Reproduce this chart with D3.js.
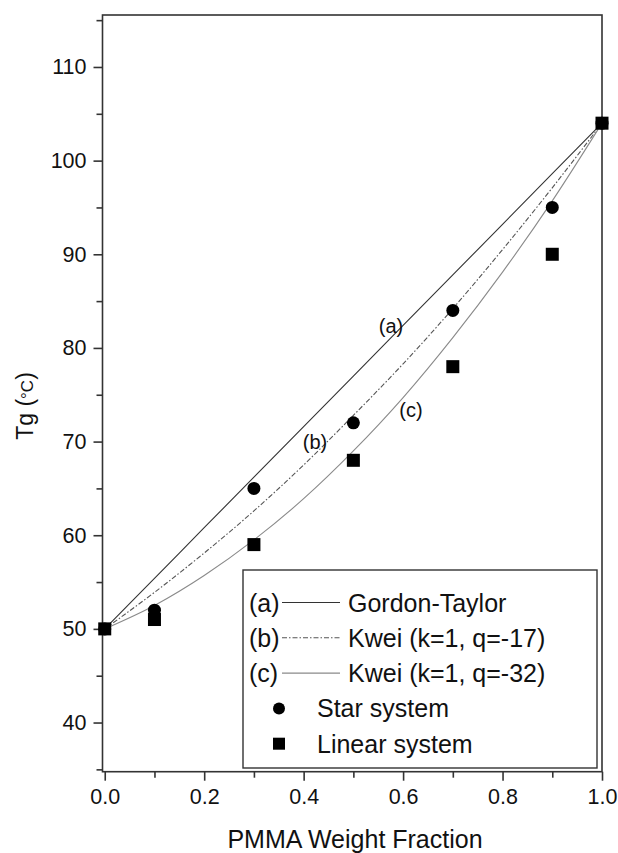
<!DOCTYPE html>
<html>
<head>
<meta charset="utf-8">
<script src="https://cdn.jsdelivr.net/npm/d3@7"></script>
<style>
	body { margin: 0; background: white; }
	text { font-family: "Liberation Sans", Arial, sans-serif; fill: #111; }
</style>
</head>
<body>
<svg id="container" width="618" height="853"></svg>
<script>

// data
const FRACTION = [0, 0.1, 0.3, 0.5, 0.7, 0.9, 1.0];
const STAR = [50, 52, 65, 72, 84, 95, 104];
const LINEAR = [50, 51, 59, 68, 78, 90, 104];

const CURVE_X = [0, 0.1, 0.2, 0.3, 0.4, 0.5, 0.6, 0.7, 0.8, 0.9, 1.0];
const CURVE_A = [50, 55.4, 60.8, 66.2, 71.6, 77.0, 82.4, 87.8, 93.2, 98.6, 104];
const CURVE_B = [50, 53.9, 58.1, 62.6, 67.5, 72.8, 78.3, 84.2, 90.5, 97.1, 104];
const CURVE_C = [50, 52.5, 55.7, 59.5, 63.9, 69.0, 74.7, 81.1, 88.1, 95.7, 104];

const X_TICKS = [0, 0.2, 0.4, 0.6, 0.8, 1.0];
const Y_TICKS = [40, 50, 60, 70, 80, 90, 100, 110];
const LEGEND = ['Gordon-Taylor', 'Kwei (k=1, q=-17)', 'Kwei (k=1, q=-32)', 'Star system', 'Linear system'];
const CURVE_TAGS = ['(a)', '(b)', '(c)'];

var svg = d3.select('#container');

var x = d3.scaleLinear().domain([-0.0045, 1.0]).range([102.5, 602]);
var y = d3.scaleLinear().domain([34.75, 115.55]).range([771.7, 15]);

// frame
svg.append('rect')
	.attr('x', x.range()[0]).attr('y', 15)
	.attr('width', x.range()[1] - x.range()[0])
	.attr('height', 771.7 - 15)
	.style('fill', 'none').style('stroke', '#333').style('stroke-width', 1.6);

// axes
var xAxis = svg.append('g')
	.attr('transform', 'translate(0,771.7)')
	.call(d3.axisBottom(x).tickValues(X_TICKS).tickFormat(d3.format('.1f')).tickSize(9).tickPadding(8));
var xMinor = svg.append('g')
	.attr('transform', 'translate(0,771.7)')
	.call(d3.axisBottom(x).tickValues([0.1, 0.3, 0.5, 0.7, 0.9]).tickFormat('').tickSize(6));

var yAxis = svg.append('g')
	.attr('transform', 'translate(102.5,0)')
	.call(d3.axisLeft(y).tickValues(Y_TICKS).tickSize(9).tickPadding(7));
var yMinor = svg.append('g')
	.attr('transform', 'translate(102.5,0)')
	.call(d3.axisLeft(y).tickValues([35, 45, 55, 65, 75, 85, 95, 105, 115]).tickFormat('').tickSize(6));

svg.selectAll('.domain').remove();
svg.selectAll('.tick line').style('stroke', '#333').style('stroke-width', 1.6);
svg.selectAll('.tick text')
	.style('font-family', '"Liberation Sans", Arial, sans-serif')
	.style('font-size', '21.5px')
	.style('fill', '#111');

// axis titles
svg.append('text')
	.attr('x', 355).attr('y', 848)
	.attr('text-anchor', 'middle')
	.style('font-size', '25px')
	.text('PMMA Weight Fraction');

var ytitle = svg.append('text')
	.attr('transform', 'translate(33,406) rotate(-90)')
	.attr('text-anchor', 'middle')
	.style('font-size', '23px');
ytitle.append('tspan').text('Tg (');
ytitle.append('tspan').style('font-size', '17px').text('\u00B0C');
ytitle.append('tspan').text(')');

// curves
var line = d3.line()
	.x(function(d) { return x(d[0]); })
	.y(function(d) { return y(d[1]); })
	.curve(d3.curveMonotoneX);

var curves = [
	{ v: CURVE_A, color: '#333', dash: null },
	{ v: CURVE_B, color: '#555', dash: '5,2,1.5,2' },
	{ v: CURVE_C, color: '#8a8a8a', dash: null }
];

curves.forEach(function(c) {
	svg.append('path')
		.datum(CURVE_X.map(function(d, i) { return [d, c.v[i]]; }))
		.attr('d', line)
		.style('fill', 'none')
		.style('stroke', c.color)
		.style('stroke-width', 1.1)
		.style('stroke-dasharray', c.dash);
});

// curve tags
var tagPos = [[391, 333], [315, 449], [411, 417]];
svg.selectAll('.tag')
	.data(CURVE_TAGS)
	.enter()
	.append('text')
	.attr('class', 'tag')
	.attr('x', function(d, i) { return tagPos[i][0]; })
	.attr('y', function(d, i) { return tagPos[i][1]; })
	.attr('text-anchor', 'middle')
	.style('font-size', '20px')
	.text(function(d) { return d; });

// markers
svg.selectAll('.star')
	.data(FRACTION)
	.enter()
	.append('circle')
	.attr('cx', function(d) { return x(d); })
	.attr('cy', function(d, i) { return y(STAR[i]); })
	.attr('r', 6.5)
	.style('fill', '#000');

svg.selectAll('.lin')
	.data(FRACTION)
	.enter()
	.append('rect')
	.attr('x', function(d) { return x(d) - 6.5; })
	.attr('y', function(d, i) { return y(LINEAR[i]) - 6.5; })
	.attr('width', 13)
	.attr('height', 13)
	.style('fill', '#000');

// legend
var lg = svg.append('g');
lg.append('rect')
	.attr('x', 243).attr('y', 570)
	.attr('width', 354).attr('height', 198)
	.style('fill', 'white').style('stroke', '#333').style('stroke-width', 1.4);

var rowY = function(i) { return 602.5 + i * 35.3; };

lg.selectAll('.lt')
	.data(LEGEND)
	.enter()
	.append('text')
	.attr('x', function(d, i) { return i < 3 ? 348 : 317; })
	.attr('y', function(d, i) { return rowY(i) + 9; })
	.style('font-size', '25px')
	.text(function(d) { return d; });

lg.selectAll('.ltag')
	.data(CURVE_TAGS)
	.enter()
	.append('text')
	.attr('x', 249)
	.attr('y', function(d, i) { return rowY(i) + 9; })
	.style('font-size', '25px')
	.text(function(d) { return d; });

curves.forEach(function(c, i) {
	lg.append('line')
		.attr('x1', 282).attr('x2', 340)
		.attr('y1', rowY(i)).attr('y2', rowY(i))
		.style('stroke', c.color)
		.style('stroke-width', 1.1)
		.style('stroke-dasharray', c.dash);
});

lg.append('circle').attr('cx', 279).attr('cy', rowY(3)).attr('r', 6).style('fill', '#000');
lg.append('rect').attr('x', 273).attr('y', rowY(4) - 6).attr('width', 12).attr('height', 12).style('fill', '#000');

</script>
</body>
</html>
